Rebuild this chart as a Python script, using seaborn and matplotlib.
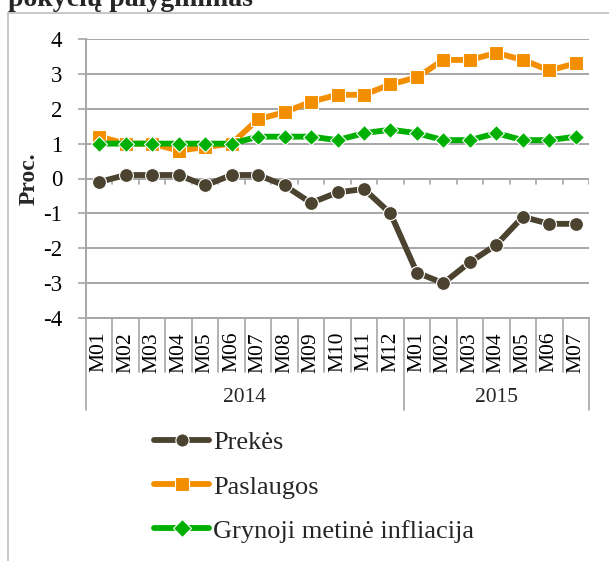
import matplotlib
matplotlib.use("Agg")
import matplotlib.pyplot as plt
import matplotlib.transforms as mtransforms
from matplotlib.patches import Rectangle
import numpy as np
import pandas as pd
import seaborn as sns

months = ["M01", "M02", "M03", "M04", "M05", "M06", "M07", "M08", "M09", "M10", "M11", "M12",
          "M01", "M02", "M03", "M04", "M05", "M06", "M07"]
years = ["2014", "2015"]
year_counts = [12, 7]
yticks = [-4, -3, -2, -1, 0, 1, 2, 3, 4]

prekes = [-0.1, 0.1, 0.1, 0.1, -0.2, 0.1, 0.1, -0.2, -0.7, -0.4, -0.3, -1.0,
          -2.7, -3.0, -2.4, -1.9, -1.1, -1.3, -1.3]
paslaugos = [1.2, 1.0, 1.0, 0.8, 0.9, 1.0, 1.7, 1.9, 2.2, 2.4, 2.4, 2.7,
             2.9, 3.4, 3.4, 3.6, 3.4, 3.1, 3.3]
grynoji = [1.0, 1.0, 1.0, 1.0, 1.0, 1.0, 1.2, 1.2, 1.2, 1.1, 1.3, 1.4,
           1.3, 1.1, 1.1, 1.3, 1.1, 1.1, 1.2]

series_names = ["Prekės", "Paslaugos", "Grynoji metinė infliacija"]
series_values = [prekes, paslaugos, grynoji]
colors = ["#4B4330", "#F28E00", "#00B000"]
markers = ["o", "s", "D"]
msizes = [10, 10, 7.8]
leg_msizes = [9.5, 10, 9]

title = "pokyčių palyginimas"
ylabel = "Proc."

sns.set_theme(style="white")
plt.rcParams["font.family"] = ["Liberation Serif", "DejaVu Serif"]

W, H = 609, 561
fig = plt.figure(figsize=(W / 100, H / 100), dpi=100)
ax = fig.add_axes([86 / W, 1 - 318 / H, (589 - 86) / W, (318 - 39) / H])

grid_c = "#A6A6A6"
ax.set_ylim(-4, 4)
ax.set_xlim(-0.5, len(months) - 0.5)
ax.set_yticks(yticks)
ax.set_yticklabels([str(v) for v in yticks])
ax.yaxis.grid(True, color=grid_c, lw=1.4)
ax.set_axisbelow(True)

# x axis line at 0 with boundary ticks
ax.axhline(0, color=grid_c, lw=1.4, zorder=1)
for b in np.arange(0.5, len(months), 1.0):
    ax.plot([b, b], [0, -0.15], color=grid_c, lw=1.2, zorder=1)

idx = np.arange(len(months))
for name, vals, c, m, ms in zip(series_names, series_values, colors, markers, msizes):
    df = pd.DataFrame({"x": idx, "y": vals})
    sns.lineplot(data=df, x="x", y="y", ax=ax, color=c, lw=4.2, marker=m,
                 markersize=ms, markeredgecolor="white", markeredgewidth=0.8,
                 label=name, zorder=3)

for s in ["top", "right"]:
    ax.spines[s].set_visible(False)
ax.spines["left"].set_color(grid_c)
ax.spines["left"].set_linewidth(1.4)
ax.spines["bottom"].set_color(grid_c)
ax.spines["bottom"].set_linewidth(1.4)

ax.tick_params(axis="y", which="both", left=True, length=6, width=1.2, color=grid_c,
               pad=11, labelsize=16.5, labelcolor="black")
ax.set_xticks(idx)
ax.set_xticklabels(months, rotation=90, fontsize=15.5)
ax.tick_params(axis="x", length=0, pad=10, labelcolor="black")
ax.set_xlabel("")
ax.set_ylabel(ylabel, fontsize=17, fontweight="bold", va="center")
ax.yaxis.set_label_coords((29 - 86) / (589 - 86), 0.5)

# multi-level category box
trans = mtransforms.blended_transform_factory(ax.transData, ax.transAxes)
ah = 318 - 39
month_bot = -(372 - 318) / ah
year_bot = -(410 - 318) / ah
year_edges = [-0.5] + list(np.cumsum(year_counts) - 0.5)
for b in np.arange(-0.5, len(months), 1.0):
    bot = year_bot if any(abs(b - e) < 1e-6 for e in year_edges) else month_bot
    ax.plot([b, b], [0, bot], color=grid_c, lw=1.2, transform=trans, clip_on=False)
start = -0.5
for yr, n in zip(years, year_counts):
    ax.text(start + n / 2, -(397 - 318) / ah, yr, transform=trans, ha="center",
            va="center", fontsize=15.5)
    start += n

# legend
leg = ax.legend(loc="upper left", bbox_to_anchor=(154 / W, 1 - 431 / H),
                bbox_transform=fig.transFigure, frameon=False, fontsize=19,
                handlelength=2.1, handletextpad=0.15, labelspacing=0.78,
                borderaxespad=0, borderpad=0)
for h, lms in zip(leg.legend_handles, leg_msizes):
    h.set_markersize(lms)

# outer frame of the chart
fig.patches.append(Rectangle((8 / W, -0.2), 1.5, 1 - 13 / H + 0.2, transform=fig.transFigure,
                             fill=False, edgecolor="#BFBFBF", lw=1.2))
fig.text(8 / W, 1 - 6 / H, title, fontsize=20, fontweight="bold", ha="left", va="baseline")

fig.savefig("out.png", dpi=100)
